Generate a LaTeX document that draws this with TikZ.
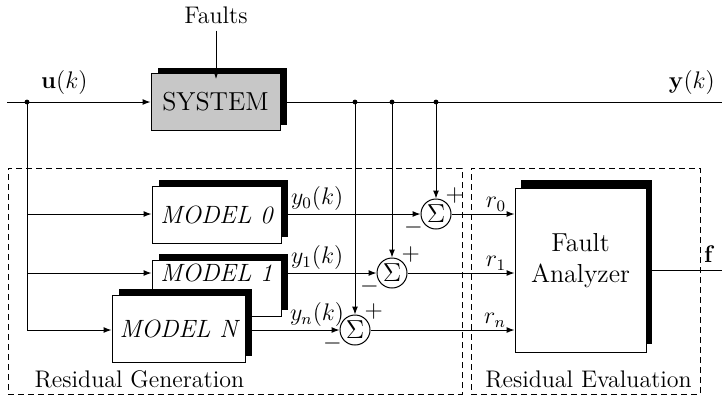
\RequirePackage{fix-cm}
\documentclass[tikz,border=0pt]{standalone}
\usepackage{amsmath}
\usetikzlibrary{arrows.meta, positioning, shadows}

\begin{document}
\begin{tikzpicture}[
    x=0.5pt, y=-0.5pt,
    font=\fontsize{12}{14}\selectfont,
    line width=0.5pt,
    shd/.style={general shadow={fill=black, shadow xshift=3.5pt, shadow yshift=3pt}},
    sysbox/.style={draw, fill=black!22, shd, minimum width=64.5pt, minimum height=28.5pt, inner sep=1pt, font=\fontsize{13}{15}\selectfont},
    blk/.style={draw, fill=white, shd, minimum width=64.5pt, minimum height=28.5pt, inner sep=1pt, font=\fontsize{12.5}{14}\selectfont\itshape},
    fabox/.style={draw, fill=white, general shadow={fill=black, shadow xshift=3pt, shadow yshift=4pt}, minimum width=65.5pt, minimum height=82pt, align=center, font=\fontsize{13}{15.5}\selectfont},
    sumnd/.style={draw, circle, fill=white, minimum size=15pt, inner sep=0pt, font=\fontsize{13}{15}\selectfont},
    pm/.style={inner sep=0.5pt, label distance=-1.5pt, font=\fontsize{12}{14}\selectfont},
    grp/.style={draw, dash pattern=on 3pt off 2pt},
    arr/.style={-{Latex[length=4pt, width=3pt]}},
    lbl/.style={inner sep=1.5pt}
]
\useasboundingbox (0,0) rectangle (722,398);

% dashed groups
\node[grp, minimum width=227pt, minimum height=113pt] (gen) at (235,281) {};
\node[grp, minimum width=114.5pt, minimum height=113pt] (eva) at (585.5,281) {};
\node[anchor=base west] (lgen) at ([xshift=10pt, yshift=3.5pt]gen.south west) {Residual Generation};
\node[anchor=base] (leva) at ([xshift=1.5pt, yshift=3.5pt]eva.south) {Residual Evaluation};

% blocks
\node[sysbox] (sys) at (215.5,102) {SYSTEM};
\node (flt) at (216,15) {Faults};
\node[blk] (m0) at (216.5,214.5) {MODEL 0};
\node[blk, text height=9pt, text depth=15.5pt, minimum height=28pt] (m1) at (216.5,288) {MODEL 1};
\node[blk, minimum width=66.5pt, minimum height=33.5pt] (mN) at (178.5,328.5) {MODEL N};
\node[fabox, text height=25pt, text depth=13pt] (fa) at (580.5,270) {Fault\\Analyzer};

% comparators
\node[sumnd, label={[pm, name=s0p]50:$+$}, label={[pm, name=s0m]200:$-$}] (s0) at (436,214) {$\Sigma$};
\node[sumnd, label={[pm, name=s1p]50:$+$}, label={[pm, name=s1m]200:$-$}] (s1) at (392,273) {$\Sigma$};
\node[sumnd, label={[pm, name=s2p]50:$+$}, label={[pm, name=s2m]200:$-$}] (s2) at (355,330) {$\Sigma$};

\coordinate (uin) at (7,102);
\coordinate (ubr) at (27,102);
\coordinate (yout) at (722,102);
\coordinate (t0) at (436,102);
\coordinate (t1) at (392,102);
\coordinate (t2) at (355,102);

% main signal line
\draw[arr] (uin) -- node[above, pos=0.4] (lu) {$\mathbf{u}(k)$} (sys.west);
\draw (sys.east) -- (yout) node[anchor=south east] (ly) {$\mathbf{y}(k)$};
\draw[arr, shorten >=-3pt] (flt) -- (flt |- sys.north);

% input to models
\draw[arr] (ubr) |- (m0.west |- s0);
\draw[arr] (ubr) |- (m1.west |- s1);
\draw[arr] (ubr) |- (mN.west |- s2);

% measured outputs
\draw[arr] (t0) -- (s0.north);
\draw[arr] (t1) -- (s1.north);
\draw[arr] (t2) -- (s2.north);
\foreach \p in {ubr, t0, t1, t2} \fill (\p) circle (1.2pt);

% model outputs
\draw[arr] (m0.east |- s0) -- node[lbl, pos=0, anchor=south west, xshift=3pt] (ly0) {$y_0(k)$} (s0.west);
\draw[arr] (m1.east |- s1) -- node[lbl, pos=0, anchor=south west, xshift=3pt] (ly1) {$y_1(k)$} (s1.west);
\draw[arr] (mN.east |- s2) -- node[lbl, pos=0, anchor=south west, xshift=20.5pt] (lyn) {$y_n(k)$} (s2.west);

% residuals
\draw[arr] (s0.east) -- node[pos=1, anchor=south east, xshift=-3pt, inner sep=1pt] (lr0) {$r_0$} (s0 -| fa.west);
\draw[arr] (s1.east) -- node[pos=1, anchor=south east, xshift=-3pt, inner sep=1pt] (lr1) {$r_1$} (s1 -| fa.west);
\draw[arr] (s2.east) -- node[pos=1, anchor=south east, xshift=-3pt, inner sep=1pt] (lrn) {$r_n$} (s2 -| fa.west);

% fault signal
\draw (fa.east) -- (fa.east -| yout) node[anchor=south east] (lf) {$\mathbf{f}$};
\end{tikzpicture}
\end{document}
